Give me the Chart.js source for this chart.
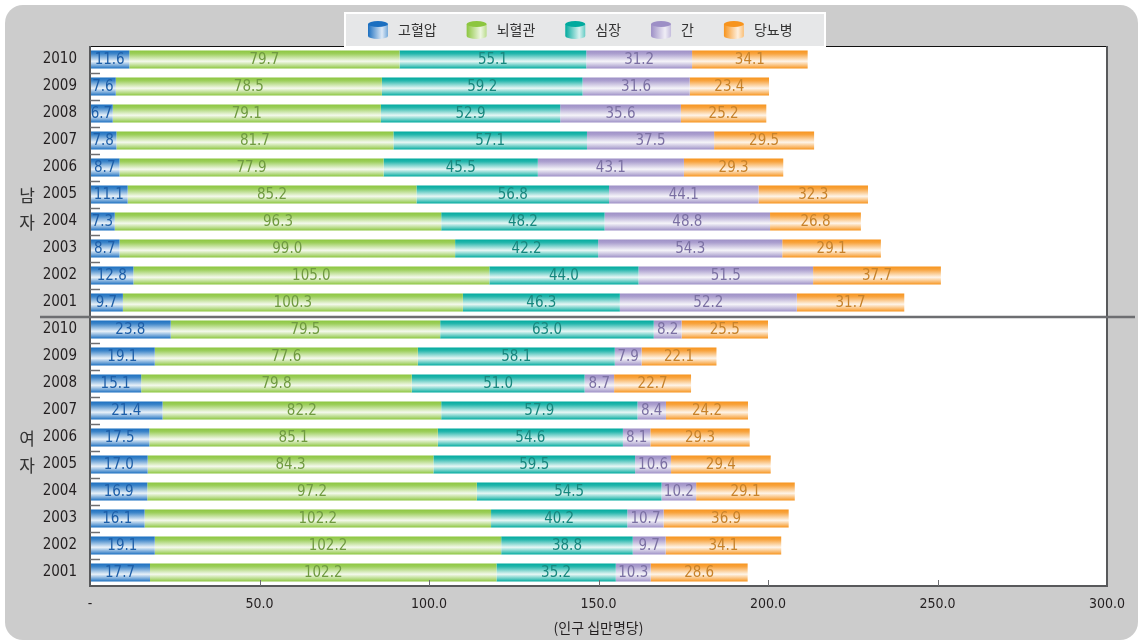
<!DOCTYPE html>
<html>
<head>
<meta charset="utf-8">
<script src="https://cdn.jsdelivr.net/npm/chart.js@4.4.1/dist/chart.umd.min.js"></script>
<style>
html,body{margin:0;padding:0;background:#fff;}
canvas{display:block;}
</style>
</head>
<body>
<canvas id="c" width="1141" height="642"></canvas>
<script>
// ---- data ----
const categories = ['2010','2009','2008','2007','2006','2005','2004','2003','2002','2001',
                    '2010','2009','2008','2007','2006','2005','2004','2003','2002','2001'];
const seriesNames = ['고혈압','뇌혈관','심장','간','당뇨병'];
const hypertension = [11.6,7.6,6.7,7.8,8.7,11.1,7.3,8.7,12.8,9.7,
                      23.8,19.1,15.1,21.4,17.5,17.0,16.9,16.1,19.1,17.7];
const cerebro = [79.7,78.5,79.1,81.7,77.9,85.2,96.3,99.0,105.0,100.3,
                 79.5,77.6,79.8,82.2,85.1,84.3,97.2,102.2,102.2,102.2];
const heart = [55.1,59.2,52.9,57.1,45.5,56.8,48.2,42.2,44.0,46.3,
               63.0,58.1,51.0,57.9,54.6,59.5,54.5,40.2,38.8,35.2];
const liver = [31.2,31.6,35.6,37.5,43.1,44.1,48.8,54.3,51.5,52.2,
               8.2,7.9,8.7,8.4,8.1,10.6,10.2,10.7,9.7,10.3];
const diabetes = [34.1,23.4,25.2,29.5,29.3,32.3,26.8,29.1,37.7,31.7,
                  25.5,22.1,22.7,24.2,29.3,29.4,29.1,36.9,34.1,28.6];
const groupNames = ['남자','여자'];
const xTickValues = [0,50,100,150,200,250,300];
const axisTitle = '(인구 십만명당)';

// ---- styles ----
const baseColors = ['#1b6fc0','#8cc63f','#00aa9e','#9d8fc6','#f7941d'];
const labelColors = ['#1d5ea8','#6f9a40','#17877e','#7b70a3','#c7822a'];
const numFont = '"DejaVu Sans Condensed", "Liberation Sans Narrow", sans-serif';
const krFont = '"Noto Sans CJK KR", "Noto Sans", sans-serif';

function mix(hex, t) {
  const n = parseInt(hex.slice(1), 16);
  const r = (n >> 16) & 255, g = (n >> 8) & 255, b = n & 255;
  const f = c => Math.round(c + (255 - c) * t);
  return `rgb(${f(r)},${f(g)},${f(b)})`;
}

const seriesData = [hypertension, cerebro, heart, liver, diabetes];
const datasets = seriesData.map((d, i) => ({
  label: seriesNames[i],
  data: d,
  backgroundColor: baseColors[i],
  borderWidth: 0,
  categoryPercentage: 1,
  barPercentage: 0.667
}));

const customPlugin = {
  id: 'custom',
  beforeDraw(chart) {
    const ctx = chart.ctx, a = chart.chartArea;
    ctx.save();
    ctx.fillStyle = '#ffffff';
    ctx.fillRect(0, 0, chart.width, chart.height);
    ctx.fillStyle = '#cccccc';
    ctx.beginPath();
    ctx.roundRect(5, 5, 1133, 635, 18);
    ctx.fill();
    ctx.fillStyle = '#ffffff';
    ctx.fillRect(a.left, a.top, a.right - a.left, a.bottom - a.top);
    ctx.restore();
  },
  beforeDatasetsDraw(chart) {
    const ctx = chart.ctx;
    chart.data.datasets.forEach((ds, i) => {
      const meta = chart.getDatasetMeta(i);
      const c = baseColors[i];
      meta.data.forEach(el => {
        const h = el.height;
        const top = el.y - h / 2;
        const g = ctx.createLinearGradient(0, top, 0, top + h);
        g.addColorStop(0, c);
        g.addColorStop(0.18, mix(c, 0.15));
        g.addColorStop(0.6, mix(c, 0.9));
        g.addColorStop(0.88, mix(c, 0.3));
        g.addColorStop(1, c);
        el.options = Object.assign({}, el.options, { backgroundColor: g });
      });
    });
  },
  afterDatasetsDraw(chart) {
    const ctx = chart.ctx, a = chart.chartArea;
    const ys = chart.scales.y, xs = chart.scales.x;
    ctx.save();
    // value labels
    ctx.font = '15px ' + numFont;
    ctx.textAlign = 'center';
    ctx.textBaseline = 'middle';
    chart.data.datasets.forEach((ds, i) => {
      const meta = chart.getDatasetMeta(i);
      ctx.fillStyle = labelColors[i];
      meta.data.forEach((el, j) => {
        const v = ds.data[j];
        ctx.fillText(v.toFixed(1), (el.x + el.base) / 2, el.y + 1);
      });
    });
    // plot border
    ctx.strokeStyle = '#111';
    ctx.lineWidth = 1;
    ctx.beginPath();
    ctx.moveTo(a.left, a.top + 0.5); ctx.lineTo(a.right, a.top + 0.5);
    ctx.stroke();
    ctx.strokeStyle = '#58595b';
    ctx.lineWidth = 2;
    ctx.beginPath();
    ctx.moveTo(a.left, a.top); ctx.lineTo(a.left, a.bottom);
    ctx.lineTo(a.right, a.bottom); ctx.lineTo(a.right, a.top);
    ctx.stroke();
    // small inner ticks on category boundaries
    ctx.lineWidth = 1.5;
    ctx.strokeStyle = '#6d6e71';
    for (let k = 1; k < categories.length; k++) {
      if (k === 10) continue;
      const y = Math.round((ys.getPixelForValue(k - 1) + ys.getPixelForValue(k)) / 2) + 0.5;
      ctx.beginPath();
      ctx.moveTo(a.left, y); ctx.lineTo(a.left + 10, y);
      ctx.stroke();
    }
    // x ticks inside
    ctx.lineWidth = 1;
    xTickValues.forEach(v => {
      if (v === 0 || v === 300) return;
      const x = Math.round(xs.getPixelForValue(v)) + 0.5;
      ctx.beginPath();
      ctx.moveTo(x, a.bottom); ctx.lineTo(x, a.bottom - 6);
      ctx.stroke();
    });
    // divider line
    const yd = (ys.getPixelForValue(9) + ys.getPixelForValue(10)) / 2 + 1;
    ctx.strokeStyle = '#6d6e71';
    ctx.lineWidth = 2.5;
    ctx.beginPath();
    ctx.moveTo(40, yd); ctx.lineTo(1135, yd);
    ctx.stroke();
    // group labels (vertical)
    ctx.fillStyle = '#333';
    ctx.font = '17px ' + krFont;
    ctx.textAlign = 'center';
    const grpRows = [[5, 6], [14, 15]];
    groupNames.forEach((g, gi) => {
      const chars = Array.from(g);
      chars.forEach((ch, ci) => {
        ctx.fillText(ch, 27, ys.getPixelForValue(grpRows[gi][ci]) + 1);
      });
    });
    // legend
    ctx.fillStyle = '#e6e7e8';
    ctx.fillRect(344, 12, 482, 36);
    ctx.strokeStyle = '#ffffff';
    ctx.lineWidth = 2;
    ctx.strokeRect(345, 13, 480, 34);
    ctx.font = '14px ' + krFont;
    ctx.textAlign = 'left';
    ctx.textBaseline = 'middle';
    let lx = 368;
    const ly = 30;
    seriesNames.forEach((name, i) => {
      const c = baseColors[i];
      const w = 20, top = ly - 6, bot = ly + 6, ry = 3;
      const g = ctx.createLinearGradient(lx, 0, lx + w, 0);
      g.addColorStop(0, c);
      g.addColorStop(0.7, mix(c, 0.85));
      g.addColorStop(1, mix(c, 0.4));
      ctx.fillStyle = g;
      ctx.beginPath();
      ctx.moveTo(lx, top);
      ctx.lineTo(lx, bot);
      ctx.ellipse(lx + w / 2, bot, w / 2, ry, 0, Math.PI, 0, true);
      ctx.lineTo(lx + w, top);
      ctx.closePath();
      ctx.fill();
      ctx.fillStyle = c;
      ctx.beginPath();
      ctx.ellipse(lx + w / 2, top, w / 2, ry, 0, 0, Math.PI * 2);
      ctx.fill();
      ctx.fillStyle = '#333';
      ctx.fillText(name, lx + w + 10, ly);
      lx += w + 10 + ctx.measureText(name).width + 30;
    });
    ctx.restore();
  }
};

new Chart(document.getElementById('c'), {
  type: 'bar',
  data: { labels: categories, datasets },
  plugins: [customPlugin],
  options: {
    indexAxis: 'y',
    responsive: false,
    animation: false,
    events: [],
    layout: { padding: { left: 40, right: 34, top: 46, bottom: 0 } },
    plugins: { legend: { display: false }, tooltip: { enabled: false } },
    scales: {
      x: {
        stacked: true,
        min: 0, max: 300,
        afterFit(s) { s.height = 56; },
        afterBuildTicks(s) { s.ticks = xTickValues.map(v => ({ value: v })); },
        grid: { display: false, drawTicks: false },
        border: { display: false },
        ticks: {
          autoSkip: false, maxRotation: 0, padding: 10, color: '#231f20',
          font: { family: numFont, size: 14 },
          callback: v => v === 0 ? '-' : Number(v).toFixed(1)
        },
        title: {
          display: true, text: axisTitle, color: '#231f20',
          font: { family: krFont, size: 14 },
          padding: { top: 0, bottom: 6 }
        }
      },
      y: {
        stacked: true,
        afterFit(s) { s.width = 50; },
        grid: { display: false, drawTicks: false },
        border: { display: false },
        ticks: {
          autoSkip: false, padding: 13, color: '#231f20',
          font: { family: numFont, size: 15 }
        }
      }
    }
  }
});
</script>
</body>
</html>
